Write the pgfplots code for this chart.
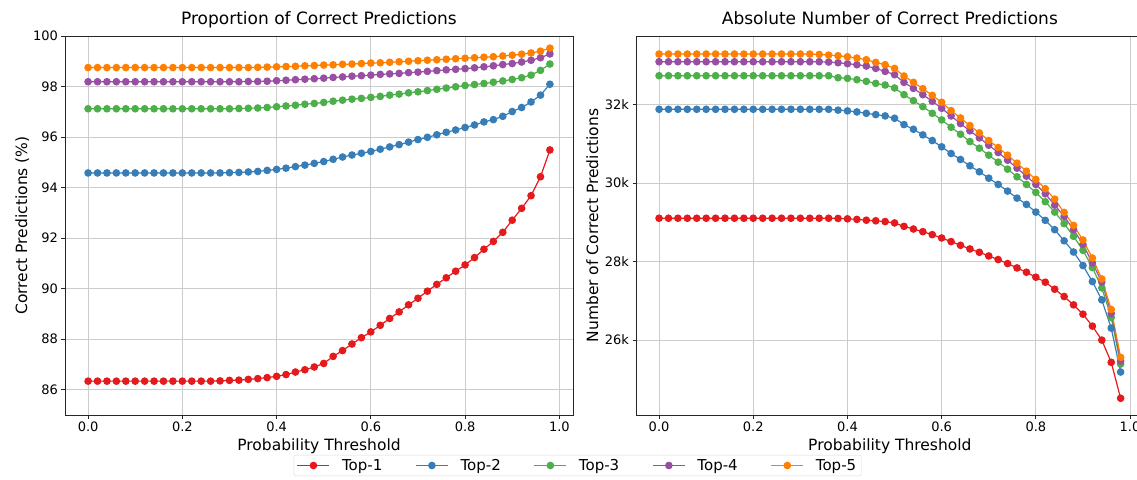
\documentclass[border=0pt]{standalone}
\usepackage{fontspec}
\setmainfont{DejaVu Sans}
\usepackage{pgfplots}
\usepackage{pgfplotstable}
\pgfplotsset{compat=1.18}
\definecolor{cA}{HTML}{E41A1C}
\definecolor{cB}{HTML}{377EB8}
\definecolor{cC}{HTML}{4DAF4A}
\definecolor{cD}{HTML}{984EA3}
\definecolor{cE}{HTML}{FF7F00}

\pgfplotstableread{
x t1 t2 t3 t4 t5
0.00 86.34 94.58 97.12 98.19 98.75
0.02 86.34 94.58 97.12 98.19 98.75
0.04 86.34 94.58 97.12 98.19 98.75
0.06 86.34 94.58 97.12 98.19 98.75
0.08 86.34 94.58 97.12 98.19 98.75
0.10 86.34 94.58 97.12 98.19 98.75
0.12 86.34 94.58 97.12 98.19 98.75
0.14 86.34 94.58 97.12 98.19 98.75
0.16 86.34 94.58 97.12 98.19 98.75
0.18 86.34 94.58 97.12 98.19 98.75
0.20 86.34 94.58 97.12 98.19 98.75
0.22 86.34 94.58 97.12 98.19 98.75
0.24 86.34 94.58 97.12 98.19 98.75
0.26 86.34 94.58 97.12 98.19 98.75
0.28 86.35 94.58 97.12 98.19 98.75
0.30 86.37 94.59 97.12 98.19 98.75
0.32 86.38 94.60 97.13 98.19 98.75
0.34 86.41 94.62 97.14 98.20 98.75
0.36 86.44 94.64 97.15 98.20 98.76
0.38 86.48 94.68 97.17 98.21 98.77
0.40 86.53 94.72 97.20 98.23 98.78
0.42 86.60 94.77 97.23 98.25 98.79
0.44 86.70 94.83 97.26 98.27 98.80
0.46 86.79 94.89 97.30 98.29 98.82
0.48 86.90 94.96 97.33 98.31 98.83
0.50 87.04 95.03 97.37 98.33 98.85
0.52 87.32 95.12 97.42 98.36 98.86
0.54 87.55 95.21 97.46 98.38 98.88
0.56 87.81 95.29 97.50 98.41 98.89
0.58 88.06 95.36 97.53 98.43 98.91
0.60 88.29 95.43 97.57 98.45 98.93
0.62 88.55 95.52 97.61 98.48 98.94
0.64 88.82 95.61 97.66 98.50 98.96
0.66 89.08 95.70 97.70 98.52 98.98
0.68 89.36 95.80 97.75 98.55 99.00
0.70 89.62 95.90 97.79 98.57 99.02
0.72 89.90 95.99 97.84 98.60 99.04
0.74 90.17 96.09 97.89 98.63 99.06
0.76 90.43 96.19 97.94 98.66 99.08
0.78 90.69 96.28 97.99 98.68 99.10
0.80 90.94 96.38 98.04 98.71 99.12
0.82 91.23 96.48 98.08 98.74 99.14
0.84 91.56 96.60 98.12 98.78 99.16
0.86 91.87 96.69 98.17 98.82 99.18
0.88 92.23 96.82 98.22 98.87 99.21
0.90 92.71 97.01 98.28 98.91 99.24
0.92 93.18 97.17 98.35 98.97 99.28
0.94 93.68 97.39 98.45 99.04 99.33
0.96 94.43 97.66 98.64 99.14 99.40
0.98 95.49 98.09 98.89 99.29 99.52
}\proptable

\pgfplotstableread{
x t1 t2 t3 t4 t5
0.00 29105 31881 32737 33093 33289
0.02 29105 31881 32737 33093 33289
0.04 29105 31881 32737 33093 33289
0.06 29105 31881 32737 33093 33289
0.08 29105 31881 32737 33093 33289
0.10 29105 31881 32737 33093 33289
0.12 29105 31881 32737 33093 33289
0.14 29105 31881 32737 33093 33289
0.16 29105 31881 32737 33093 33289
0.18 29105 31881 32737 33093 33289
0.20 29105 31881 32737 33093 33289
0.22 29105 31881 32737 33093 33289
0.24 29105 31881 32737 33093 33289
0.26 29105 31881 32737 33093 33289
0.28 29105 31881 32737 33093 33289
0.30 29105 31881 32737 33093 33289
0.32 29105 31881 32737 33093 33289
0.34 29105 31881 32737 33093 33279
0.36 29105 31881 32737 33085 33263
0.38 29100 31860 32686 33068 33246
0.40 29090 31840 32669 33043 33220
0.42 29075 31814 32636 33017 33187
0.44 29055 31779 32593 32984 33144
0.46 29040 31746 32542 32923 33076
0.48 29020 31712 32500 32847 33017
0.50 28985 31653 32424 32763 32923
0.52 28898 31491 32254 32568 32729
0.54 28830 31372 32102 32415 32568
0.56 28763 31229 31949 32254 32407
0.58 28687 31085 31779 32085 32237
0.60 28602 30925 31610 31907 32059
0.62 28510 30754 31423 31712 31847
0.64 28415 30602 31245 31517 31661
0.66 28322 30441 31059 31331 31466
0.68 28237 30289 30890 31153 31280
0.70 28144 30126 30712 30966 31085
0.72 28052 29966 30534 30780 30907
0.74 27950 29796 30356 30584 30712
0.76 27839 29618 30161 30381 30508
0.78 27729 29457 29966 30178 30305
0.80 27602 29262 29763 29966 30093
0.82 27475 29051 29526 29729 29857
0.84 27296 28814 29262 29440 29592
0.86 27110 28530 28967 29152 29254
0.88 26897 28245 28644 28814 28923
0.90 26661 27899 28288 28440 28550
0.92 26356 27492 27848 27965 28092
0.94 26000 27025 27330 27482 27558
0.96 25433 26305 26577 26678 26780
0.98 24517 25186 25389 25466 25560
}\counttable

\pgfplotsset{
  mystyle/.style={
    scale only axis, width=508pt, height=379pt,
    xmin=-0.049, xmax=1.029,
    xtick={0,0.2,0.4,0.6,0.8,1.0},
    xticklabels={0.0,0.2,0.4,0.6,0.8,1.0},
    scaled ticks=false,
    grid=major, grid style={black!20, line width=0.8pt},
    axis line style={black!85, line width=0.8pt},
    tick align=outside, tick pos=left, major tick length=3.5pt,
    tick style={black!85, line width=0.8pt},
    ticklabel style={font=\fontsize{13}{15}\selectfont},
    label style={font=\fontsize{15.5}{18}\selectfont},
    title style={font=\fontsize{17}{20}\selectfont, at={(axis description cs:0.5,1)}, anchor=base, yshift=5.3pt},
    xlabel style={at={(axis description cs:0.5,-0.0942)}, anchor=base},
    ylabel style={at={(axis description cs:-0.0748,0.5)}, anchor=base},
    every axis plot/.append style={line width=1.2pt, mark=*, mark size=3.2pt, mark options={solid}},
    /pgf/number format/assume math mode=true,
    legend image code/.code={\draw[mark repeat=2,mark phase=2] plot coordinates {(0pt,0pt) (16pt,0pt) (32pt,0pt)};},
  }
}

\begin{document}
\begin{tikzpicture}
\path[use as bounding box] (0,0) rectangle (1137pt,479pt);
\begin{axis}[mystyle, at={(65pt,64pt)}, anchor=south west,
  ymin=85, ymax=100, ytick={86,88,90,92,94,96,98,100},
  title={Proportion of Correct Predictions},
  xlabel={Probability Threshold}, ylabel={Correct Predictions (\%)},
  legend columns=5,
  legend style={at={(1.0089,-0.1055)}, anchor=north, draw=black!15, rounded corners=2pt,
    font=\fontsize{15}{17}\selectfont,
    /tikz/every odd column/.append style={column sep=10pt},
    /tikz/every even column/.append style={column sep=31pt}},
]
\addplot[color=cA] table[x=x,y=t1]{\proptable};
\addplot[color=cB] table[x=x,y=t2]{\proptable};
\addplot[color=cC] table[x=x,y=t3]{\proptable};
\addplot[color=cD] table[x=x,y=t4]{\proptable};
\addplot[color=cE] table[x=x,y=t5]{\proptable};
\legend{Top-1,Top-2,Top-3,Top-4,Top-5}
\end{axis}
\begin{axis}[mystyle, at={(636pt,64pt)}, anchor=south west, width=507.7pt,
  ymin=24091, ymax=33749, ytick={26000,28000,30000,32000},
  yticklabels={26k,28k,30k,32k},
  title={Absolute Number of Correct Predictions},
  xlabel={Probability Threshold}, ylabel={Number of Correct Predictions},
]
\addplot[color=cA] table[x=x,y=t1]{\counttable};
\addplot[color=cB] table[x=x,y=t2]{\counttable};
\addplot[color=cC] table[x=x,y=t3]{\counttable};
\addplot[color=cD] table[x=x,y=t4]{\counttable};
\addplot[color=cE] table[x=x,y=t5]{\counttable};
\end{axis}
\end{tikzpicture}
\end{document}
